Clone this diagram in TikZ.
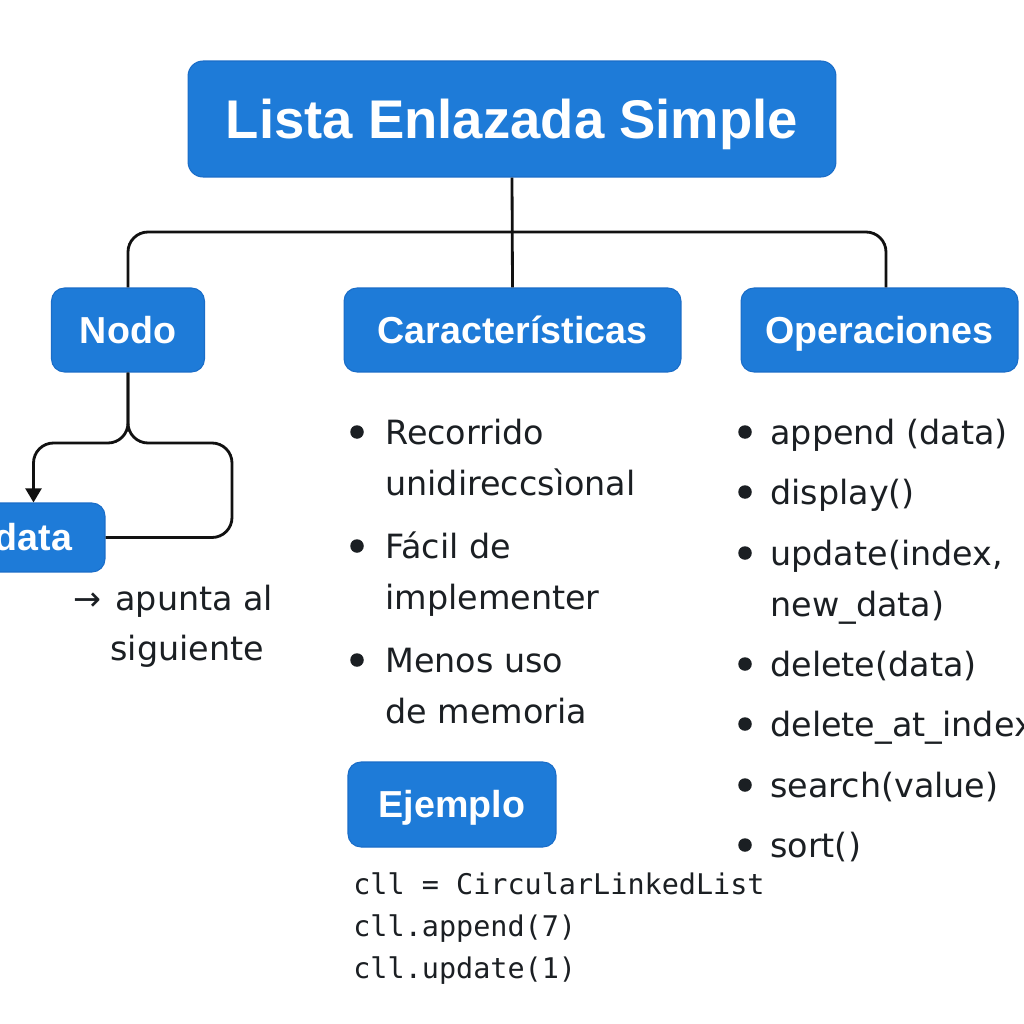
\documentclass[tikz,border=0pt]{standalone}
\usepackage{fontspec}
\setmainfont{DejaVu Sans}
\setmonofont{DejaVu Sans Mono}
\newfontfamily\headfont{Liberation Sans}
\usetikzlibrary{arrows.meta}
\definecolor{boxblue}{HTML}{1E7BD8}
\definecolor{boxedge}{HTML}{1A6DC8}
\definecolor{ink}{HTML}{1B1F23}
\definecolor{wire}{HTML}{111111}

\begin{document}
\begin{tikzpicture}[x=0.02cm, y=-0.02cm, every node/.style={text=ink, inner sep=0pt},
	hd/.style={draw=boxedge, line width=0.6pt, fill=boxblue, rounded corners=0.26cm, minimum height=1.68cm, text=white, text height=15.3pt, text depth=0pt, font=\headfont\bfseries\fontsize{21.4}{25}\selectfont},
	txt/.style={anchor=base west, font=\fontsize{19}{23}\selectfont},
	code/.style={anchor=base west, font=\ttfamily\fontsize{16.2}{20}\selectfont},
	dot/.style={circle, fill=ink, minimum size=0.27cm},
	ln/.style={draw=wire, line width=1.6pt, rounded corners=0.4cm}]
	\useasboundingbox (0,0) rectangle (1024,1024);
	\clip (0,0) rectangle (1024,1024);
	\fill[white] (0,0) rectangle (1024,1024);
	% boxes
	\node[hd, minimum width=12.96cm, minimum height=2.32cm, rounded corners=0.3cm, text height=22.2pt, font=\headfont\bfseries\fontsize{31}{37}\selectfont] (title) at (512,119) {Lista Enlazada Simple};
	\node[hd, minimum width=3.06cm] (nodo) at (128,330) {Nodo};
	\node[hd, minimum width=6.74cm] (car) at (512.5,330) {Características};
	\node[hd, minimum width=5.54cm] (ops) at (879.5,330) {Operaciones};
	\node[hd, minimum width=2.86cm, minimum height=1.38cm] (data) at (33.5,537.5) {data};
	\node[hd, minimum width=4.16cm, minimum height=1.70cm] (ejemplo) at (452,804.5) {Ejemplo};
	% tree
	\coordinate (bar) at (512,232);
	\draw[ln] (title.south) -- (car.north);
	\draw[ln] (nodo.north) |- (bar) -| ([xshift=0.13cm]ops.north);
	\coordinate (split) at (128,443);
	\coordinate (loop) at (232,537.5);
	\draw[ln, -{Triangle[length=8pt, width=9pt]}] (nodo.south) -- (split) -| (data.north);
	\draw[ln] (nodo.south) -- (split) -| (loop) -- (data.east);
	\node[txt] (note1) at (115,610) {\llap{→\hspace{8pt}}apunta al};
	\node[txt] (note2) at (110,660) {siguiente};
	% lists
	\foreach \y [count=\i] in {432,546,660} {\node[dot] (cdot\i) at (357,\y) {};}
	\foreach \y/\t [count=\i] in {444/Recorrido, 495/unidireccsìonal, 558/Fácil de, 609/implementer, 672/Menos uso, 723/de memoria} {\node[txt] (c\i) at (385,\y) {\t};}
	\foreach \y [count=\i] in {432,492,553,664,724,785,845} {\node[dot] (odot\i) at (745,\y) {};}
	\foreach \y/\t [count=\i] in {444/append (data), 504/display(), 565/{update(index,}, 616/new\_data), 676/delete(data), 736/delete\_at\_index, 797/search(value), 857/sort()} {\node[txt] (o\i) at (770,\y) {\t};}
	\foreach \y/\t [count=\i] in {894/cll = CircularLinkedList, 936/cll.append(7), 978/cll.update(1)} {\node[code] (ex\i) at (353,\y) {\t};}
\end{tikzpicture}
\end{document}
